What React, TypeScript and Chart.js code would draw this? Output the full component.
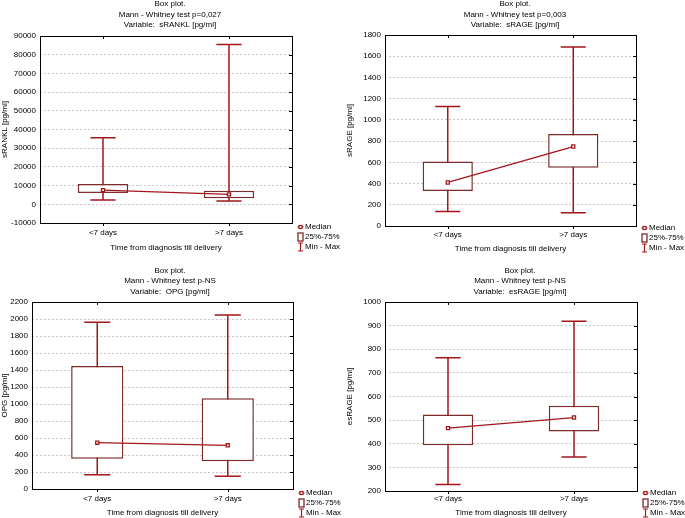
import React, { useEffect, useRef } from "react";
import { Chart, registerables } from "chart.js";

Chart.register(...registerables);

// ---------- data ----------
const categories = ["<7 days", ">7 days"];
const xAxisTitle = "Time from diagnosis till delivery";

const sranklMin = [2300, 1800];
const sranklQ1 = [6000, 3300];
const sranklMedian = [7600, 5300];
const sranklQ3 = [10800, 7200];
const sranklMax = [35600, 85500];
const sranklTicks = { min: -10000, max: 90000, step: 10000 };

const srageMin = [136, 126];
const srageQ1 = [330, 548];
const srageMedian = [410, 749];
const srageQ3 = [608, 866];
const srageMax = [1127, 1686];
const srageTicks = { min: 0, max: 1800, step: 200 };

const opgMin = [168, 150];
const opgQ1 = [357, 326];
const opgMedian = [545, 514];
const opgQ3 = [1447, 1067];
const opgMax = [1961, 2047];
const opgTicks = { min: 0, max: 2200, step: 200 };

const esrageMin = [228, 344];
const esrageQ1 = [394, 452];
const esrageMedian = [466, 511];
const esrageQ3 = [524, 561];
const esrageMax = [764, 918];
const esrageTicks = { min: 200, max: 1000, step: 100 };

const legendLabels = ["Median", "25%-75%", "Min - Max"];

// ---------- styles ----------
const WHISKER = "#a3161b";
const BOXC = "#7d2b2b";
const FONT_FAMILY = '"Liberation Sans", Arial, sans-serif';
const FS = 8;

type Panel = {
  left: number;
  top: number;
  w: number;
  h: number;
  title: string[];
  yTitle: string;
  mins: number[];
  q1: number[];
  med: number[];
  q3: number[];
  maxs: number[];
  ticks: { min: number; max: number; step: number };
  areaLeft: number;
  padRight: number;
  padTop: number;
  xAxisH: number;
  xTickPad: number;
  xTitlePad: number;
  titleX: number;
  titleY: number[];
  legendY: number;
};

const panels: Panel[] = [
  {
    left: 0, top: 0, w: 345, h: 259,
    title: ["Box plot.", "Mann - Whitney test p=0,027", "Variable:  sRANKL [pg/ml]"],
    yTitle: "sRANKL [pg/ml]",
    mins: sranklMin, q1: sranklQ1, med: sranklMedian, q3: sranklQ3, maxs: sranklMax,
    ticks: sranklTicks,
    areaLeft: 40, padRight: 53, padTop: 36, xAxisH: 36, xTickPad: 5, xTitlePad: 6,
    titleX: 170, titleY: [4, 14.5, 25], legendY: 227,
  },
  {
    left: 345, top: 0, w: 340, h: 259,
    title: ["Box plot.", "Mann - Whitney test p=0,003", "Variable:  sRAGE [pg/ml]"],
    yTitle: "sRAGE [pg/ml]",
    mins: srageMin, q1: srageQ1, med: srageMedian, q3: srageQ3, maxs: srageMax,
    ticks: srageTicks,
    areaLeft: 40, padRight: 49, padTop: 35, xAxisH: 33, xTickPad: 3.5, xTitlePad: 5.5,
    titleX: 170, titleY: [4, 14.5, 25], legendY: 228,
  },
  {
    left: 0, top: 259, w: 345, h: 259,
    title: ["Box plot.", "Mann - Whitney test p-NS", "Variable:  OPG [pg/ml]"],
    yTitle: "OPG [pg/ml]",
    mins: opgMin, q1: opgQ1, med: opgMedian, q3: opgQ3, maxs: opgMax,
    ticks: opgTicks,
    areaLeft: 32, padRight: 52, padTop: 43, xAxisH: 29, xTickPad: 4.5, xTitlePad: 0,
    titleX: 170, titleY: [11.5, 22, 32.5], legendY: 234,
  },
  {
    left: 345, top: 259, w: 340, h: 259,
    title: ["Box plot.", "Mann - Whitney test p-NS", "Variable:  esRAGE [pg/ml]"],
    yTitle: "esRAGE [pg/ml]",
    mins: esrageMin, q1: esrageQ1, med: esrageMedian, q3: esrageQ3, maxs: esrageMax,
    ticks: esrageTicks,
    areaLeft: 40, padRight: 48, padTop: 43, xAxisH: 27, xTickPad: 2.5, xTitlePad: 0,
    titleX: 175, titleY: [11.5, 22, 32.5], legendY: 234,
  },
];

function BoxPanel({ p }: { p: Panel }) {
  const ref = useRef<HTMLCanvasElement>(null);

  useEffect(() => {
    const font = { family: FONT_FAMILY, size: FS };

    const extras = {
      id: "boxExtras",
      beforeDatasetsDraw(chart: any) {
        const { ctx } = chart;
        const x = chart.scales.x;
        const y = chart.scales.y;
        const barMeta = chart.getDatasetMeta(1);
        ctx.save();
        ctx.strokeStyle = WHISKER;
        ctx.lineWidth = 1.5;
        for (let i = 0; i < categories.length; i++) {
          const cx = x.getPixelForValue(i);
          const bw = barMeta.data[i] ? barMeta.data[i].width : 50;
          const half = bw * 0.25;
          const yLo = y.getPixelForValue(p.mins[i]);
          const yHi = y.getPixelForValue(p.maxs[i]);
          ctx.beginPath();
          ctx.moveTo(cx, yLo);
          ctx.lineTo(cx, yHi);
          ctx.moveTo(cx - half, yLo);
          ctx.lineTo(cx + half, yLo);
          ctx.moveTo(cx - half, yHi);
          ctx.lineTo(cx + half, yHi);
          ctx.stroke();
        }
        ctx.restore();
      },
      afterDatasetsDraw(chart: any) {
        const { ctx, chartArea: a } = chart;
        const x = chart.scales.x;
        const y = chart.scales.y;
        ctx.save();
        ctx.strokeStyle = "#000";
        ctx.lineWidth = 1;
        ctx.strokeRect(Math.round(a.left) + 0.5, Math.round(a.top) + 0.5, Math.round(a.right - a.left), Math.round(a.bottom - a.top));
        ctx.beginPath();
        for (let i = 0; i < categories.length; i++) {
          const cx = Math.round(x.getPixelForValue(i)) + 0.5;
          ctx.moveTo(cx, a.top);
          ctx.lineTo(cx, a.top + 3);
          ctx.moveTo(cx, a.bottom);
          ctx.lineTo(cx, a.bottom + 3);
        }
        for (const t of y.ticks) {
          const ty = Math.round(y.getPixelForValue(t.value)) + 0.5;
          ctx.moveTo(a.right, ty);
          ctx.lineTo(a.right - 3, ty);
        }
        ctx.stroke();
        ctx.restore();
      },
      afterDraw(chart: any) {
        const { ctx, chartArea: a } = chart;
        ctx.save();
        ctx.fillStyle = "#000";
        ctx.font = `${FS}px ${FONT_FAMILY}`;
        ctx.textAlign = "center";
        ctx.textBaseline = "middle";
        p.title.forEach((t, i) => ctx.fillText(t, p.titleX, p.titleY[i]));

        // legend
        const ix = a.right + 8.5;
        const tx = a.right + 13;
        const ly = p.legendY;
        // Median
        ctx.strokeStyle = WHISKER;
        ctx.lineWidth = 1.2;
        ctx.beginPath();
        ctx.moveTo(ix - 3, ly);
        ctx.lineTo(ix + 3, ly);
        ctx.stroke();
        ctx.fillStyle = "#fff";
        ctx.fillRect(ix - 1.5, ly - 1.5, 3, 3);
        ctx.strokeRect(ix - 1.5, ly - 1.5, 3, 3);
        // box
        ctx.strokeStyle = BOXC;
        ctx.lineWidth = 1.3;
        ctx.strokeRect(ix - 2.5, ly + 10 - 4, 5, 8);
        // whisker
        ctx.strokeStyle = WHISKER;
        ctx.lineWidth = 1.2;
        ctx.beginPath();
        ctx.moveTo(ix, ly + 20 - 4);
        ctx.lineTo(ix, ly + 20 + 4);
        ctx.moveTo(ix - 2.5, ly + 20 - 4);
        ctx.lineTo(ix + 2.5, ly + 20 - 4);
        ctx.moveTo(ix - 2.5, ly + 20 + 4);
        ctx.lineTo(ix + 2.5, ly + 20 + 4);
        ctx.stroke();

        ctx.fillStyle = "#000";
        ctx.textAlign = "left";
        legendLabels.forEach((t, i) => ctx.fillText(t, tx, ly + i * 10));
        ctx.restore();
      },
    };

    const chart = new Chart(ref.current as HTMLCanvasElement, {
      type: "bar",
      data: {
        labels: categories,
        datasets: [
          {
            type: "line",
            label: "Median",
            data: p.med,
            order: 0,
            borderColor: WHISKER,
            borderWidth: 1.3,
            pointStyle: "rect",
            pointRadius: 2.2,
            pointBorderWidth: 1.3,
            pointBackgroundColor: "#fff",
            pointBorderColor: WHISKER,
            fill: false,
          } as any,
          {
            type: "bar",
            label: "25%-75%",
            data: p.q1.map((v, i) => [v, p.q3[i]]),
            order: 1,
            backgroundColor: "#fff",
            borderColor: BOXC,
            borderWidth: 1.5,
            borderSkipped: false,
            categoryPercentage: 1,
            barPercentage: 0.4,
          } as any,
        ],
      },
      options: {
        responsive: false,
        animation: false,
        devicePixelRatio: 1,
        layout: { padding: { left: 0, right: p.padRight, top: p.padTop, bottom: 0 } },
        plugins: {
          legend: { display: false },
          tooltip: { enabled: false },
          title: { display: false },
        },
        scales: {
          x: {
            type: "category",
            offset: true,
            grid: { display: false, drawTicks: false },
            border: { display: false },
            ticks: { font, color: "#000", padding: p.xTickPad, maxRotation: 0 },
            title: {
              display: true,
              text: xAxisTitle,
              font,
              color: "#000",
              padding: { top: 0, bottom: p.xTitlePad },
            },
            afterFit(s: any) {
              s.height = p.xAxisH;
            },
          },
          y: {
            type: "linear",
            min: p.ticks.min,
            max: p.ticks.max,
            ticks: {
              stepSize: p.ticks.step,
              maxTicksLimit: 100,
              autoSkip: false,
              callback: (v: any) => String(v),
              font,
              color: "#000",
              padding: 4,
            },
            grid: { color: "#c9c9c9", lineWidth: 1, drawTicks: false },
            border: { display: false, dash: [2, 2] },
            title: {
              display: true,
              text: p.yTitle,
              font,
              color: "#000",
              padding: { top: 0, bottom: 0 },
            },
            afterFit(s: any) {
              s.width = p.areaLeft;
            },
          },
        },
      } as any,
      plugins: [extras],
    });
    return () => chart.destroy();
  }, [p]);

  return (
    <canvas
      ref={ref}
      width={p.w}
      height={p.h}
      style={{ position: "absolute", left: p.left, top: p.top, width: p.w, height: p.h }}
    />
  );
}

export default function App() {
  return (
    <div
      style={{
        position: "absolute",
        left: 0,
        top: 0,
        width: 685,
        height: 518,
        background: "#fff",
        overflow: "hidden",
      }}
    >
      {panels.map((p, i) => (
        <BoxPanel key={i} p={p} />
      ))}
    </div>
  );
}
